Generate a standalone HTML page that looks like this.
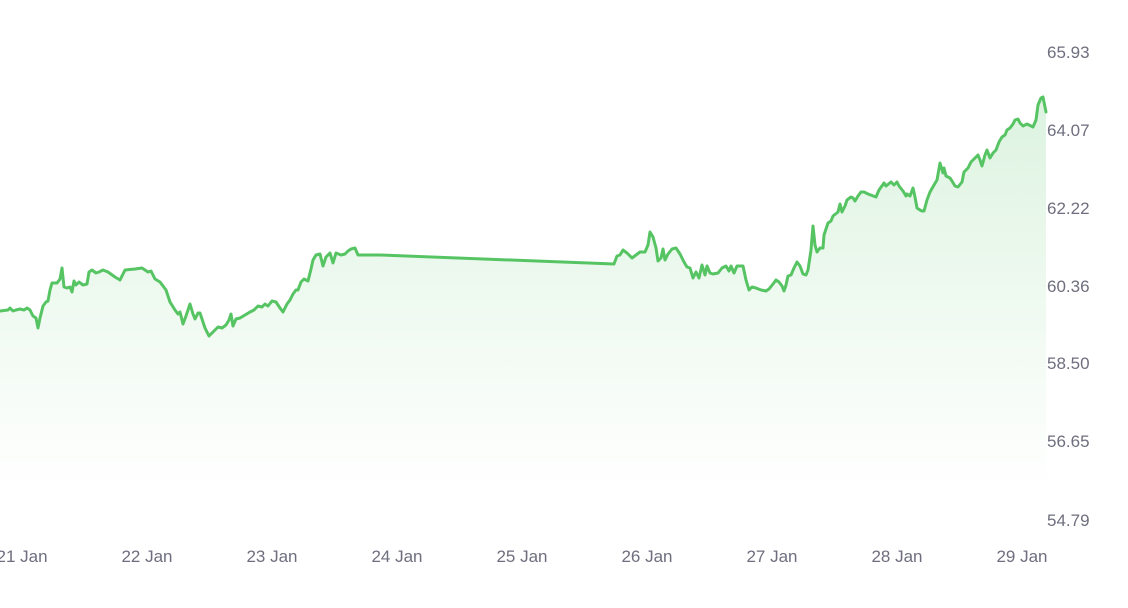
<!DOCTYPE html>
<html><head><meta charset="utf-8"><style>
html,body{margin:0;padding:0;background:#fff;}
svg{display:block;font-family:"Liberation Sans",sans-serif;}
</style></head><body>
<svg width="1128" height="608" viewBox="0 0 1128 608">
<defs><linearGradient id="g" gradientUnits="userSpaceOnUse" x1="0" y1="97" x2="0" y2="490">
<stop offset="0" stop-color="#55c565" stop-opacity="0.2"/><stop offset="1" stop-color="#55c565" stop-opacity="0"/></linearGradient></defs>
<polygon fill="url(#g)" stroke="none" points="0,311 8,310 10,308 13,311 16,310 20,309 24,310 27,308 30,310 33,316 36,318 38,328 40,318 43,306 46,302 48,301 50,290 52,283 57,283 60,279 62,268 64,287 67,288 70,287 72,292 74,281 76,285 79,282 83,285 87,284 89,272 92,270 96,273 99,272 103,270 108,272 115,277 120,280 123,274 125,270 135,269 142,268 148,272 151,271 155,279 160,282 166,290 170,302 175,310 178,314 180,312 183,324 186,316 190,304 193,314 195,319 198,313 200,313 205,328 209,336 212,333 215,330 218,327 222,328 226,325 229,320 231,314 233,326 236,319 240,318 245,315 250,312 254,310 258,306 262,307 265,304 268,306 272,301 276,302 280,308 283,312 287,304 290,300 293,294 296,290 298,290 301,282 304,279 308,281 311,269 313,260 316,255 320,254 323,266 326,257 330,253 333,263 336,253 341,255 345,254 348,251 351,249 355,248 358,255 380,255 614,264 617,256 620,255 623,250 627,253 632,258 636,255 640,252 645,252 648,245 650,232 653,237 656,248 658,261 661,258 663,249 665,260 668,254 672,249 676,248 680,254 684,262 687,267 690,268 693,278 696,272 699,278 702,265 705,275 707,266 710,273 713,274 718,273 722,268 726,266 729,271 731,266 734,273 737,266 740,266 743,266 746,280 749,290 752,287 756,288 761,290 766,291 769,289 773,284 776,280 779,282 782,286 784,291 786,285 788,276 791,275 794,268 797,262 800,266 803,274 806,275 808,270 811,250 813,226 815,245 817,252 820,248 823,248 824,235 828,223 831,221 833,216 838,212 840,204 842,212 845,206 847,200 851,197 853,198 855,201 858,196 861,192 864,192 868,194 876,197 879,190 884,183 886,186 891,182 894,185 897,182 899,186 903,191 906,196 907,194 910,196 913,188 915,197 917,208 920,210 922,211 924,211 927,200 930,192 934,185 937,180 940,163 943,173 944,168 946,176 950,178 952,181 955,186 958,187 962,182 964,172 968,168 971,162 974,159 978,155 980,160 982,166 985,155 987,150 990,158 993,153 996,150 999,142 1002,137 1005,135 1007,130 1010,128 1013,124 1015,120 1018,119 1020,123 1023,126 1027,124 1029,125 1033,127 1036,120 1038,105 1041,98 1043,97 1046,112 1046,530 0,530"/>
<polyline fill="none" stroke="#57c464" stroke-width="3" stroke-linejoin="round" stroke-linecap="round" points="0,311 8,310 10,308 13,311 16,310 20,309 24,310 27,308 30,310 33,316 36,318 38,328 40,318 43,306 46,302 48,301 50,290 52,283 57,283 60,279 62,268 64,287 67,288 70,287 72,292 74,281 76,285 79,282 83,285 87,284 89,272 92,270 96,273 99,272 103,270 108,272 115,277 120,280 123,274 125,270 135,269 142,268 148,272 151,271 155,279 160,282 166,290 170,302 175,310 178,314 180,312 183,324 186,316 190,304 193,314 195,319 198,313 200,313 205,328 209,336 212,333 215,330 218,327 222,328 226,325 229,320 231,314 233,326 236,319 240,318 245,315 250,312 254,310 258,306 262,307 265,304 268,306 272,301 276,302 280,308 283,312 287,304 290,300 293,294 296,290 298,290 301,282 304,279 308,281 311,269 313,260 316,255 320,254 323,266 326,257 330,253 333,263 336,253 341,255 345,254 348,251 351,249 355,248 358,255 380,255 614,264 617,256 620,255 623,250 627,253 632,258 636,255 640,252 645,252 648,245 650,232 653,237 656,248 658,261 661,258 663,249 665,260 668,254 672,249 676,248 680,254 684,262 687,267 690,268 693,278 696,272 699,278 702,265 705,275 707,266 710,273 713,274 718,273 722,268 726,266 729,271 731,266 734,273 737,266 740,266 743,266 746,280 749,290 752,287 756,288 761,290 766,291 769,289 773,284 776,280 779,282 782,286 784,291 786,285 788,276 791,275 794,268 797,262 800,266 803,274 806,275 808,270 811,250 813,226 815,245 817,252 820,248 823,248 824,235 828,223 831,221 833,216 838,212 840,204 842,212 845,206 847,200 851,197 853,198 855,201 858,196 861,192 864,192 868,194 876,197 879,190 884,183 886,186 891,182 894,185 897,182 899,186 903,191 906,196 907,194 910,196 913,188 915,197 917,208 920,210 922,211 924,211 927,200 930,192 934,185 937,180 940,163 943,173 944,168 946,176 950,178 952,181 955,186 958,187 962,182 964,172 968,168 971,162 974,159 978,155 980,160 982,166 985,155 987,150 990,158 993,153 996,150 999,142 1002,137 1005,135 1007,130 1010,128 1013,124 1015,120 1018,119 1020,123 1023,126 1027,124 1029,125 1033,127 1036,120 1038,105 1041,98 1043,97 1046,112"/>
<g fill="#6e6e7e" font-size="17">
<g text-anchor="start">
<text x="1047" y="58">65.93</text><text x="1047" y="136">64.07</text><text x="1047" y="214">62.22</text><text x="1047" y="292">60.36</text><text x="1047" y="369">58.50</text><text x="1047" y="447">56.65</text><text x="1047" y="526">54.79</text></g>
<g text-anchor="middle">
<text x="22" y="562">21 Jan</text><text x="147" y="562">22 Jan</text><text x="272" y="562">23 Jan</text><text x="397" y="562">24 Jan</text><text x="522" y="562">25 Jan</text><text x="647" y="562">26 Jan</text><text x="772" y="562">27 Jan</text><text x="897" y="562">28 Jan</text><text x="1022" y="562">29 Jan</text></g>
</g>
</svg>
</body></html>
